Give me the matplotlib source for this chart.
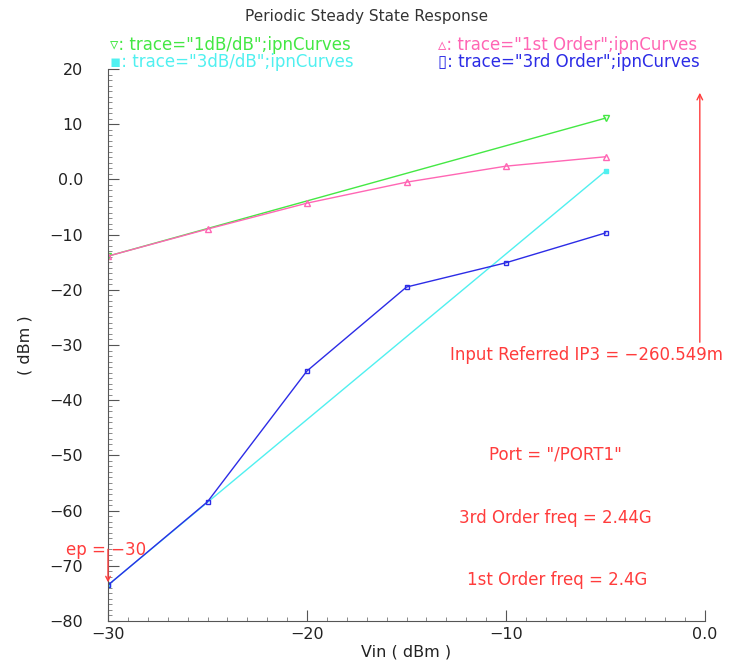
import matplotlib
matplotlib.use("Agg")
import matplotlib.pyplot as plt
from matplotlib.ticker import MultipleLocator, FixedLocator

# ---- data ----
x_1db = [-30, -5]
y_1db = [-13.9, 11.1]
x_1st = [-30, -25, -20, -15, -10, -5]
y_1st = [-13.9, -9.0, -4.3, -0.5, 2.4, 4.1]
x_3db = [-30, -5]
y_3db = [-73.5, 1.5]
x_3rd = [-30, -25, -20, -15, -10, -5]
y_3rd = [-73.5, -58.4, -34.7, -19.5, -15.1, -9.7]
ip3 = -0.260549
ip3_arrow = [-30, 16.2]
ep_x = -30
ep_arrow = [-66.5, -73.5]
xticks = [-30, -20, -10, 0]
xticklabels = ["\u221230", "\u221220", "\u221210", "0.0"]
yticks = [20, 10, 0, -10, -20, -30, -40, -50, -60, -70, -80]
yticklabels = ["20", "10", "0.0", "\u221210", "\u221220", "\u221230", "\u221240",
               "\u221250", "\u221260", "\u221270", "\u221280"]

GREEN = "#44e844"
PINK = "#ff66b4"
CYAN = "#50f0f0"
BLUE = "#2c2ce6"
RED = "#ff3c3c"

fig = plt.figure(figsize=(7.33, 6.66), dpi=100)
ax = fig.add_axes([108/733, 1-621/666, (705-108)/733, (621-69)/666])

ax.plot(x_1db, y_1db, color=GREEN, lw=1, marker="v", mfc="none", mec=GREEN, ms=5)
ax.plot(x_1st, y_1st, color=PINK, lw=1, marker="^", mfc="none", mec=PINK, ms=5)
ax.plot(x_3db, y_3db, color=CYAN, lw=1, marker="s", mfc=CYAN, mec=CYAN, ms=3.5)
ax.plot(x_3rd, y_3rd, color=BLUE, lw=1, marker="s", mfc="none", mec=BLUE, ms=3.5)

ax.set_xlim(-30, 0)
ax.set_ylim(-80, 20)
for s in ["top", "right"]:
    ax.spines[s].set_visible(False)
for s in ["left", "bottom"]:
    ax.spines[s].set_color("#555555")
    ax.spines[s].set_linewidth(0.8)

ax.xaxis.set_major_locator(FixedLocator(xticks))
ax.set_xticklabels(xticklabels)
ax.yaxis.set_major_locator(FixedLocator(yticks))
ax.set_yticklabels(yticklabels)
ax.xaxis.set_minor_locator(MultipleLocator(1))
ax.yaxis.set_minor_locator(MultipleLocator(1))
ax.tick_params(which="major", direction="in", length=8, width=0.8, color="#555555",
               labelsize=11.5, labelcolor="#222222")
ax.tick_params(which="minor", direction="in", length=3, width=0.6, color="#777777")
ax.tick_params(axis="x", pad=4)
ax.tick_params(axis="y", pad=18)

ax.set_xlabel("Vin ( dBm )", fontsize=11.5, color="#222222", labelpad=2)
ax.set_ylabel("( dBm )", fontsize=11.5, color="#222222", labelpad=12)

fig.text(367/733, 1-16/666, "Periodic Steady State Response", ha="center", va="center",
         fontsize=11, color="#333333")

LEG_FS = 12
fig.text(110/733, 1-45/666, "\u25bf: trace=\"1dB/dB\";ipnCurves", color=GREEN, fontsize=LEG_FS, va="center")
fig.text(438/733, 1-45/666, "\u25b5: trace=\"1st Order\";ipnCurves", color=PINK, fontsize=LEG_FS, va="center")
fig.text(110/733, 1-62/666, "\u25aa: trace=\"3dB/dB\";ipnCurves", color=CYAN, fontsize=LEG_FS, va="center")
fig.text(438/733, 1-62/666, "\u25af: trace=\"3rd Order\";ipnCurves", color=BLUE, fontsize=LEG_FS, va="center")

# annotations
ax.annotate("", xy=(ip3, ip3_arrow[1]), xytext=(ip3, ip3_arrow[0]),
            arrowprops=dict(arrowstyle="->", color=RED, lw=1, mutation_scale=10),
            annotation_clip=False)
ax.annotate("", xy=(ep_x, ep_arrow[1]), xytext=(ep_x, ep_arrow[0]),
            arrowprops=dict(arrowstyle="->", color=RED, lw=1, mutation_scale=8),
            annotation_clip=False)

TXT_FS = 12
ax.text(-12.8, -31.8, "Input Referred IP3 = \u2212260.549m", color=RED, fontsize=TXT_FS,
        ha="left", va="center", clip_on=False)
ax.text(-7.54, -49.9, "Port = \"/PORT1\"", color=RED, fontsize=TXT_FS, ha="center", va="center")
ax.text(-7.54, -61.3, "3rd Order freq = 2.44G", color=RED, fontsize=TXT_FS, ha="center", va="center")
ax.text(-7.44, -72.6, "1st Order freq = 2.4G", color=RED, fontsize=TXT_FS, ha="center", va="center")
ax.text(-32.1, -67.1, "ep = \u221230", color=RED, fontsize=TXT_FS, ha="left", va="center", clip_on=False)

fig.savefig("out.png", dpi=100)
